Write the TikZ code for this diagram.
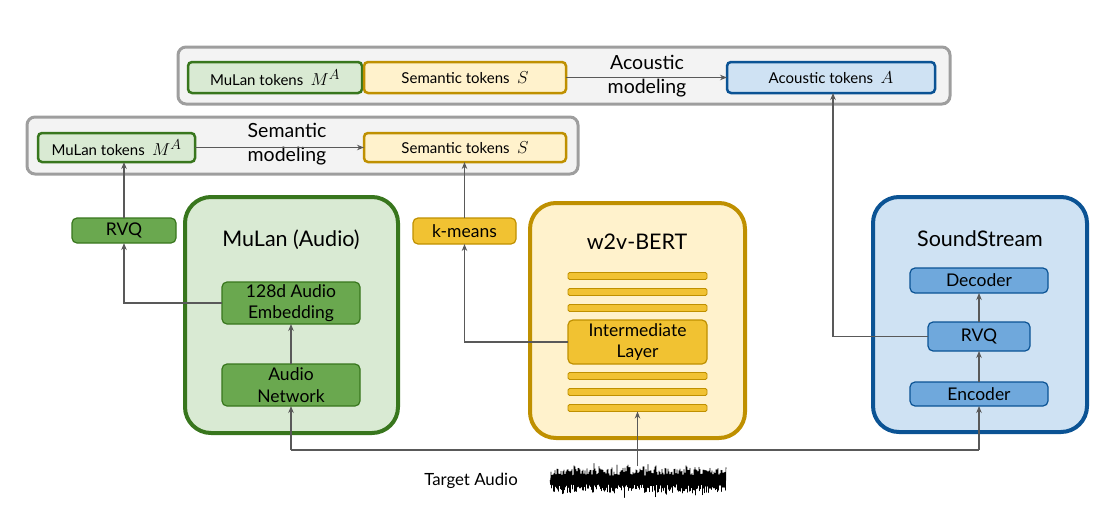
\documentclass[tikz,border=0pt]{standalone}
\usepackage{fontspec}
\setmainfont{Lato}
\usetikzlibrary{arrows.meta}
\definecolor{gdark}{HTML}{38761D}
\definecolor{glight}{HTML}{D9EAD3}
\definecolor{gmid}{HTML}{6AA84F}
\definecolor{ydark}{HTML}{BF9000}
\definecolor{ylight}{HTML}{FFF2CC}
\definecolor{ymid}{HTML}{F1C232}
\definecolor{bdark}{HTML}{0B5394}
\definecolor{blight}{HTML}{CFE2F3}
\definecolor{bmid}{HTML}{6FA8DC}
\definecolor{gborder}{HTML}{9E9E9E}
\definecolor{gfill}{HTML}{F3F3F3}
\definecolor{conn}{HTML}{595959}
\newcommand{\bigmath}[1]{{\fontsize{19}{20}\selectfont$#1$}}
\tikzset{
  every node/.style={inner sep=0pt, outer sep=0pt, align=center},
  graybox/.style={draw=gborder, fill=gfill, line width=3pt, rounded corners=8pt},
  tok/.style={line width=2.5pt, rounded corners=4pt, font=\fontsize{15}{17}\selectfont},
  tokg/.style={tok, draw=gdark, fill=glight},
  toky/.style={tok, draw=ydark, fill=ylight},
  tokb/.style={tok, draw=bdark, fill=blight},
  bigbox/.style={line width=4pt, rounded corners=26pt},
  title/.style={font=\fontsize{21.5}{24}\selectfont},
  inner/.style={line width=1.2pt, rounded corners=5pt, font=\fontsize{17.5}{21.5}\selectfont},
  stripe/.style={draw=ydark, fill=ymid, line width=0.8pt, rounded corners=1.5pt, minimum width=139pt, minimum height=7pt},
  modlabel/.style={font=\fontsize{19.5}{24}\selectfont},
  line/.style={draw=conn, line width=1.2pt},
  arr/.style={line, -{Stealth[length=7pt,width=5.5pt]}}
}
\begin{document}
\begin{tikzpicture}[x=1pt,y=-1pt]
\useasboundingbox (0,0) rectangle (1110,514);
% top row
\node[graybox, minimum width=772pt, minimum height=57pt] (topgray) at (564,75.5) {};
\node[tokg, minimum width=174pt, minimum height=31pt] (mt1) at (275,77.5) {MuLan tokens\enspace\bigmath{M^A}};
\node[toky, minimum width=202pt, minimum height=31pt] (st1) at (465,77.5) {Semantic tokens\enspace\bigmath{S}};
\node[tokb, minimum width=208pt, minimum height=31pt] (at1) at (831,77.5) {Acoustic tokens\enspace\bigmath{A}};
\node[modlabel] (acmod) at (647,76) {Acoustic\\modeling};
% second row
\node[graybox, minimum width=551pt, minimum height=57pt] (secgray) at (302.5,145.5) {};
\node[tokg, minimum width=157pt, minimum height=29pt] (mt2) at (116.5,147.5) {MuLan tokens\enspace\bigmath{M^A}};
\node[toky, minimum width=202pt, minimum height=29pt] (st2) at (465,147.5) {Semantic tokens\enspace\bigmath{S}};
\node[modlabel] (semmod) at (287,144) {Semantic\\modeling};
% MuLan
\node[inner, draw=gdark, fill=gmid, minimum width=104pt, minimum height=25pt] (rvq1) at (124,230.5) {RVQ};
\node[bigbox, draw=gdark, fill=glight, minimum width=213pt, minimum height=236pt] (mulan) at (291.5,315) {};
\node[title] (mulantitle) at (291,240) {MuLan (Audio)};
\node[inner, draw=gdark, fill=gmid, minimum width=138pt, minimum height=42pt] (emb) at (291,303) {128d Audio\\Embedding};
\node[inner, draw=gdark, fill=gmid, minimum width=138pt, minimum height=42pt] (anet) at (291,385) {Audio\\Network};
% w2v-BERT
\node[inner, draw=ydark, fill=ymid, minimum width=103pt, minimum height=26pt] (kmeans) at (464.5,231) {k-means};
\node[bigbox, draw=ydark, fill=ylight, minimum width=215pt, minimum height=235pt] (w2v) at (637.5,320.5) {};
\node[title] (w2vtitle) at (637,242) {w2v-BERT};
\node[stripe] (s1) at (637.5,276) {};
\node[stripe] (s2) at (637.5,292) {};
\node[stripe] (s3) at (637.5,308) {};
\node[inner, draw=ydark, fill=ymid, minimum width=139pt, minimum height=44pt] (inter) at (637.5,342) {Intermediate\\Layer};
\node[stripe] (s4) at (637.5,376) {};
\node[stripe] (s5) at (637.5,392) {};
\node[stripe] (s6) at (637.5,408) {};
% SoundStream
\node[bigbox, draw=bdark, fill=blight, minimum width=214pt, minimum height=235pt] (ss) at (980,314.5) {};
\node[title] (sstitle) at (980,239) {SoundStream};
\node[inner, draw=bdark, fill=bmid, minimum width=138pt, minimum height=25pt] (dec) at (979,280.5) {Decoder};
\node[inner, draw=bdark, fill=bmid, minimum width=102pt, minimum height=29pt] (rvq2) at (979,336.5) {RVQ};
\node[inner, draw=bdark, fill=bmid, minimum width=138pt, minimum height=24pt] (enc) at (979,394) {Encoder};
% audio
\node[font=\fontsize{16.8}{19}\selectfont] (target) at (471,481) {Target Audio};
\pgfmathsetseed{11}
\draw[black, line width=0.55pt, line join=round]
  (550,480) \foreach \i in {1,...,352} { -- ({550+\i*0.5},{480+(2*mod(\i,2)-1)*(4+8*rnd+9*rnd*rnd*rnd)}) };
\coordinate (wave) at (637.5,466);
\coordinate (jl) at (291,450);
\coordinate (jr) at (979,450);
% connectors
\draw[arr] (st1.east) -- (at1.west);
\draw[arr] (mt2.east) -- (st2.west);
\draw[arr] (rvq1.north) -- (rvq1.north |- mt2.south);
\draw[arr] (emb.west) -| (rvq1.south);
\draw[arr] (anet.north) -- (emb.south);
\draw[arr] (kmeans.north) -- (kmeans.north |- st2.south);
\draw[arr] (inter.west) -| (kmeans.south);
\draw[arr] (rvq2.west) -| ([xshift=2pt]at1.south);
\draw[arr] (enc.north) -- (rvq2.south);
\draw[arr] (rvq2.north) -- (dec.south);
\draw[line] (jl) -- (jr);
\draw[arr] (jl) -- (anet.south);
\draw[arr] (jr) -- (enc.south);
\draw[arr] (wave) -- (s6.south);
\end{tikzpicture}
\end{document}
